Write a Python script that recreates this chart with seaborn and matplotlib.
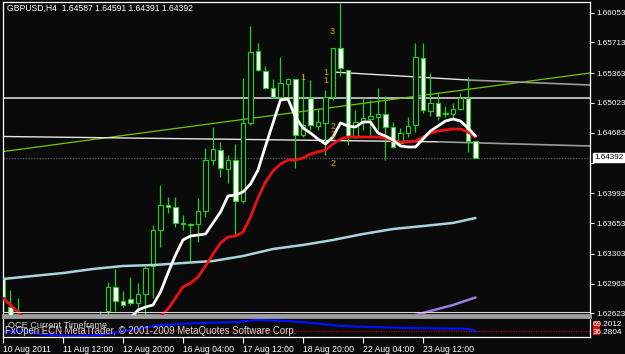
import numpy as np
import pandas as pd
import matplotlib
matplotlib.use("Agg")
import matplotlib.pyplot as plt
from matplotlib.patches import Rectangle
import seaborn as sns

# ---------------- data ----------------
header_text = "GBPUSD,H4  1.64587 1.64591 1.64391 1.64392"

opens = [1.63026, 1.62690, 1.62500, 1.62450, 1.62300, 1.62380, 1.62280, 1.62150, 1.62300, 1.62420,
         1.62350, 1.62450, 1.62500, 1.62520, 1.62650, 1.62923, 1.62764, 1.62786, 1.62741, 1.62844,
         1.63163, 1.63574, 1.63859, 1.63836, 1.63654, 1.63642, 1.63642, 1.63791, 1.64372, 1.64487,
         1.64270, 1.64372, 1.63905, 1.64795, 1.65616, 1.65388, 1.65194, 1.65091, 1.65240, 1.65297,
         1.64658, 1.65080, 1.64760, 1.64795, 1.65091, 1.65650, 1.65399, 1.64635, 1.64806, 1.64840,
         1.64863, 1.64897, 1.64749, 1.64566, 1.64680, 1.64772, 1.65536, 1.64932, 1.65023, 1.64909,
         1.64897, 1.64954, 1.65080, 1.64587]
highs = [1.63060, 1.62889, 1.62798, 1.62540, 1.62450, 1.62500, 1.62400, 1.62350, 1.62480, 1.62550,
         1.62500, 1.62560, 1.62580, 1.62650, 1.62980, 1.63129, 1.62878, 1.63037, 1.62969, 1.63163,
         1.63631, 1.64087, 1.63950, 1.63950, 1.63745, 1.63654, 1.63939, 1.64509, 1.64749, 1.64578,
         1.64429, 1.64555, 1.65308, 1.65901, 1.65707, 1.65445, 1.65297, 1.65548, 1.65308, 1.65297,
         1.65354, 1.65285, 1.64966, 1.65171, 1.65650, 1.66164, 1.65399, 1.64943, 1.65091, 1.65057,
         1.65194, 1.65103, 1.64806, 1.64738, 1.64863, 1.65707, 1.65707, 1.65365, 1.65148, 1.64989,
         1.65023, 1.65137, 1.65319, 1.64591]
lows = [1.62480, 1.62400, 1.62350, 1.62200, 1.62150, 1.62250, 1.62050, 1.62000, 1.62200, 1.62280,
        1.62220, 1.62320, 1.62380, 1.62450, 1.62600, 1.62650, 1.62695, 1.62718, 1.62627, 1.62604,
        1.62798, 1.63380, 1.63768, 1.63608, 1.63574, 1.63209, 1.63437, 1.63722, 1.64315, 1.64178,
        1.64110, 1.63517, 1.63882, 1.64772, 1.65388, 1.65183, 1.65080, 1.65080, 1.65091, 1.64281,
        1.64635, 1.64715, 1.64715, 1.64429, 1.65057, 1.65331, 1.64544, 1.64623, 1.64715, 1.64658,
        1.64715, 1.64372, 1.64509, 1.64544, 1.64635, 1.64692, 1.64909, 1.64874, 1.64829, 1.64863,
        1.64852, 1.64943, 1.64464, 1.64391]
closes = [1.62809, 1.62500, 1.62450, 1.62300, 1.62380, 1.62280, 1.62150, 1.62300, 1.62420, 1.62350,
          1.62450, 1.62500, 1.62520, 1.62580, 1.62923, 1.62764, 1.62718, 1.62741, 1.62844, 1.63140,
          1.63574, 1.63859, 1.63836, 1.63654, 1.63642, 1.63631, 1.63791, 1.64372, 1.64498, 1.64281,
          1.64372, 1.63905, 1.64795, 1.65605, 1.65399, 1.65194, 1.65091, 1.65251, 1.65297, 1.64658,
          1.64772, 1.64772, 1.64806, 1.65091, 1.65650, 1.65422, 1.64635, 1.64806, 1.64852, 1.64874,
          1.64897, 1.64749, 1.64521, 1.64680, 1.64760, 1.65548, 1.64943, 1.65023, 1.64874, 1.64897,
          1.64954, 1.65080, 1.64589, 1.64392]

fast_ma_bars = list(range(17, 64))
fast_ma = [1.62570, 1.62661, 1.62695, 1.62718, 1.62866, 1.63083, 1.63288, 1.63460, 1.63505, 1.63517,
           1.63528, 1.63654, 1.63779, 1.63962, 1.63973, 1.64007, 1.64099, 1.64258, 1.64532, 1.64795,
           1.65057, 1.65068, 1.64863, 1.64738, 1.64680, 1.64612, 1.64555, 1.64635, 1.64795, 1.64760,
           1.64749, 1.64806, 1.64806, 1.64680, 1.64646, 1.64601, 1.64532, 1.64521, 1.64521, 1.64612,
           1.64703, 1.64760, 1.64817, 1.64840, 1.64817, 1.64738, 1.64646]

slow_ma_bars = [0, 1, 2, 3, 20] + list(range(21, 64))
slow_ma = [1.62798, 1.62718, 1.62638, 1.62560, 1.62550,
           1.62592, 1.62672, 1.62798, 1.62923, 1.62969, 1.63037, 1.63163, 1.63300, 1.63425, 1.63494,
           1.63505, 1.63551, 1.63722, 1.63939, 1.64121, 1.64247, 1.64327, 1.64372, 1.64372, 1.64395,
           1.64441, 1.64464, 1.64487, 1.64555, 1.64612, 1.64635, 1.64635, 1.64635, 1.64635, 1.64635,
           1.64623, 1.64589, 1.64578, 1.64578, 1.64589, 1.64635, 1.64680, 1.64703, 1.64715, 1.64726,
           1.64726, 1.64692, 1.64635]

long_ma_bars = [0, 4, 8, 12, 16, 20, 24, 28, 32, 36, 40, 44, 48, 52, 56, 60, 63]
long_ma = [1.63015, 1.63049, 1.63083, 1.63129, 1.63163, 1.63174, 1.63197, 1.63220, 1.63277,
           1.63357, 1.63403, 1.63460, 1.63528, 1.63585, 1.63619, 1.63654, 1.63711]

purple_bars = [55, 57, 60, 63]
purple_ma = [1.62604, 1.62650, 1.62718, 1.62804]

osc_bars = [0, 3, 5, 9, 13, 17, 21, 26, 31, 34, 38, 42, 45, 49, 54, 59, 62, 63]
osc_vals = [38.6, 41.0, 33.9, 29.2, 31.6, 43.3, 55.1, 59.8, 62.1, 66.8, 64.5, 58.6, 52.7,
            50.4, 48.0, 46.9, 45.7, 41.0]
osc_level = 42.0

hline_price = 1.65080
bid_price = 1.64392
trend_green = [(-0.4, 1.64464), (78.27, 1.65365)]
trend_low = [(-0.4, 1.64641), (58.0, 1.64580), (78.27, 1.64532)]
trend_high = [(44.0, 1.65376), (62.0, 1.65285), (78.27, 1.65228)]

zz_text = ["3", "1", "1", "1", "2", "2", "2"]
zz_bar = [43.9, 43.1, 43.1, 40.0, 44.0, 44.0, 44.0]
zz_price = [1.65833, 1.65376, 1.65285, 1.65319, 1.64749, 1.64658, 1.64327]

price_ticks = [1.66053, 1.65713, 1.65363, 1.65023, 1.64683, 1.64343, 1.63993,
               1.63653, 1.63303, 1.62963, 1.62623]
price_labels = ["1.66053", "1.65713", "1.65363", "1.65023", "1.64683", "", "1.63993",
                "1.63653", "1.63303", "1.62963", "1.62623"]
time_tick_bars = [0, 8, 16, 24, 32, 40, 48, 56]
time_tick_labels = ["10 Aug 2011", "11 Aug 12:00", "12 Aug 20:00", "16 Aug 04:00",
                    "17 Aug 12:00", "18 Aug 20:00", "22 Aug 04:00", "23 Aug 12:00"]

# ---------------- style ----------------
BG = "#0a0a0a"
sns.set_theme(style="dark", rc={"axes.facecolor": BG, "figure.facecolor": BG,
                                "axes.grid": False, "savefig.facecolor": BG})
plt.rcParams["font.family"] = ["Liberation Sans", "DejaVu Sans"]
FS = 6.2
YFS = 5.9
GREEN = "#19d419"

W, H = 625, 354
fig = plt.figure(figsize=(W / 100, H / 100), dpi=100)

def fx(x):
    return x / W

def fy(y):
    return 1 - y / H

ax = fig.add_axes([fx(3), fy(315), (590 - 3) / W, (315 - 2) / H])
sub = fig.add_axes([fx(3), fy(337), (590 - 3) / W, (337 - 317) / H])
XL = (0, 78.27)

# ---------------- main panel ----------------
df = pd.DataFrame({"bar": np.arange(len(opens)), "open": opens, "high": highs,
                   "low": lows, "close": closes})

ax.axhline(hline_price, color="#b4b4b4", lw=1.4, zorder=1)
ax.axhline(bid_price, color="#55556a", lw=1.0, ls=(0, (1, 1)), zorder=1)
gx, gy = zip(*trend_green)
sns.lineplot(x=list(gx), y=list(gy), ax=ax, color="#6fc800", lw=0.9, zorder=1)
lx, ly = zip(*trend_low)
ax.plot(lx[:2], ly[:2], color="#e6e6e6", lw=1.0, zorder=1)
ax.plot(lx[1:], ly[1:], color="#9a9a9a", lw=1.2, zorder=1)
hx, hy = zip(*trend_high)
ax.plot(hx[:2], hy[:2], color="#e6e6e6", lw=1.0, zorder=1)
ax.plot(hx[1:], hy[1:], color="#9a9a9a", lw=1.2, zorder=1)

ax.vlines(df["bar"], df["low"], df["high"], color=GREEN, lw=0.9, zorder=2)
body_low = np.minimum(df["open"], df["close"])
body_h = np.maximum(np.abs(df["close"] - df["open"]), 0.00003)
face = ["white" if c < o else BG for o, c in zip(df["open"], df["close"])]
ax.bar(df["bar"], body_h, bottom=body_low, width=0.6, color=face,
       edgecolor=GREEN, linewidth=0.8, zorder=3, clip_on=True)

sns.lineplot(x=long_ma_bars, y=long_ma, ax=ax, color="#a8d4dc", lw=1.8, zorder=4)
sns.lineplot(x=purple_bars, y=purple_ma, ax=ax, color="#9b7be0", lw=1.8, zorder=4)
sns.lineplot(x=slow_ma_bars, y=slow_ma, ax=ax, color="#ee1111", lw=2.0, zorder=5)
sns.lineplot(x=fast_ma_bars, y=fast_ma, ax=ax, color="white", lw=2.0, zorder=6)

for t, b, p in zip(zz_text, zz_bar, zz_price):
    ax.text(b, p, t, color="#d9a400", fontsize=6.4, ha="center", va="center", zorder=7)

ax.set_xlim(*XL)
ax.set_ylim(1.62604, 1.66175)
ax.set_xticks([])
ax.yaxis.tick_right()
ax.set_yticks(price_ticks)
ax.set_yticklabels(price_labels)
ax.tick_params(axis="y", colors="white", labelcolor="white", length=3, width=0.8,
               pad=1.5, labelsize=YFS, direction="out", right=True, left=False)
for s in ["left", "right", "top"]:
    ax.spines[s].set_color("white")
    ax.spines[s].set_linewidth(0.9)
ax.spines["bottom"].set_color("#a0a0a0")
ax.spines["bottom"].set_linewidth(2.0)
ax.plot([0, 1], [0.011, 0.011], transform=ax.transAxes, color="#d8d8d8", lw=0.8, zorder=8)
ax.set_xlabel("")
ax.set_ylabel("")

fig.text(fx(7), fy(8.5), header_text, color="white", fontsize=FS, ha="left", va="center")

fig.text(fx(594), fy(157.5), "1.64392", color="black", fontsize=YFS, ha="left", va="center",
         bbox=dict(boxstyle="square,pad=0.12", facecolor="white", edgecolor="white"))

# ---------------- sub panel ----------------
sub.axhline(osc_level, color="#c00000", lw=0.9, ls=(0, (1, 1)))
sns.lineplot(x=osc_bars, y=osc_vals, ax=sub, color="#0010ff", lw=1.6)
sub.set_xlim(*XL)
sub.set_ylim(26.9, 73.9)
sub.set_yticks([])
sub.set_xticks(time_tick_bars)
sub.set_xticklabels(time_tick_labels, ha="left")
sub.tick_params(axis="x", colors="white", labelcolor="white", length=4, width=0.8,
                pad=1.5, labelsize=FS, direction="out", bottom=True)
for s in ["left", "right", "bottom"]:
    sub.spines[s].set_color("white")
    sub.spines[s].set_linewidth(0.9)
sub.spines["top"].set_color("#a0a0a0")
sub.spines["top"].set_linewidth(2.0)
sub.set_xlabel("")
sub.set_ylabel("")

fig.text(fx(8), fy(325), "OCE Current Timeframe", color="#d0d0d0", fontsize=6.6,
         ha="left", va="center")
fig.text(fx(5), fy(331), "FxOpen ECN MetaTrader, \u00a9 2001-2009 MetaQuotes Software Corp.",
         color="#d8d8d8", fontsize=6.9, ha="left", va="center")

for yy in (324, 331):
    fig.add_artist(Rectangle((fx(593), fy(yy + 4)), 7 / W, 7 / H, transform=fig.transFigure,
                             facecolor="#e01010", edgecolor="none"))
fig.text(fx(593), fy(324.5), "69.2012", color="white", fontsize=YFS, ha="left", va="center")
fig.text(fx(593), fy(332), "36.2804", color="white", fontsize=YFS, ha="left", va="center")

fig.savefig("out.png", dpi=100, facecolor=BG)
